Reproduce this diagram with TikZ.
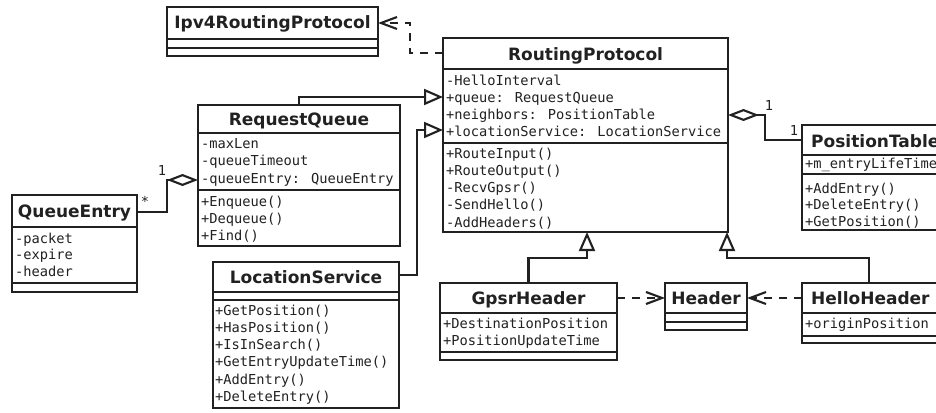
\documentclass[tikz,border=0pt]{standalone}
\usepackage{fontspec}
\usetikzlibrary{arrows.meta}
\newfontfamily\tfont{DejaVu Sans}
\newfontfamily\mfont{DejaVu Sans Mono}
\definecolor{ink}{gray}{0.13}
\tikzset{
  clsbox/.style={draw=ink, line width=2.1pt, rectangle, inner sep=0pt, outer sep=0pt, fill=white},
  sepline/.style={draw=ink, line width=2.1pt},
  titlest/.style={anchor=base, inner sep=0pt, text=ink, font=\tfont\bfseries\fontsize{17}{20}\selectfont},
  memb/.style={anchor=base west, inner sep=0pt, text=ink, font=\mfont\fontsize{13.7}{16}\selectfont},
  lbl/.style={inner sep=0pt, text=ink, font=\mfont\fontsize{13.7}{16}\selectfont},
  conn/.style={draw=ink, line width=2.1pt},
  gen/.style={conn, -{Triangle[open, fill=white, length=19pt, width=16pt]}},
  agg/.style={conn, -{Diamond[open, fill=white, length=31pt, width=12pt]}},
  dep/.style={conn, dash pattern=on 8pt off 7pt, -{Straight Barb[length=16pt, width=12pt]}}
}
\newcommand\umlbox[7]{%
  \node[clsbox, minimum width={#4-#2}, minimum height={#5-#3}] (#1) at ({(#2+#4)/2},{(#3+#5)/2}) {};
  \draw[sepline] (#2,#6) -- (#4,#6);
  \draw[sepline] (#2,#7) -- (#4,#7);}
\newcommand\umlmembers[5]{%
  \foreach \s [count=\i] in {#5} {\node[memb] (#1\i) at (#2,{#3+#4*(\i-1)}) {\s};}}
\begin{document}
\begin{tikzpicture}[x=1pt, y=-1pt]
\useasboundingbox (0,0) rectangle (936,412);
\clip (0,0) rectangle (936,412);
\fill[white] (0,0) rectangle (936,412);

% classes
\umlbox{ipv4}{167}{7}{378}{56}{39}{48}
\node[titlest] (ipv4-t) at (272.5,29) {Ipv4RoutingProtocol};

\umlbox{rp}{443}{38}{728}{232}{69}{143}
\node[titlest] (rp-t) at (585.5,60) {RoutingProtocol};
\umlmembers{rpa}{446}{85}{17.2}{-HelloInterval, +queue: RequestQueue, +neighbors: PositionTable, +locationService: LocationService}
\umlmembers{rpm}{446}{158}{17.3}{+RouteInput(), +RouteOutput(), -RecvGpsr(), -SendHello(), -AddHeaders()}

\umlbox{pt}{802}{125}{950}{230}{155}{174}
\node[titlest, anchor=base west] (pt-t) at (811,147) {PositionTable};
\umlmembers{pta}{805}{168.5}{16.5}{+m\_entryLifeTime}
\umlmembers{ptm}{805}{193}{16.5}{+AddEntry(), +DeleteEntry(), +GetPosition()}

\umlbox{rq}{198}{105}{400}{246}{133}{190}
\node[titlest] (rq-t) at (299,125) {RequestQueue};
\umlmembers{rqa}{201}{148}{17.5}{-maxLen, -queueTimeout, -queueEntry: QueueEntry}
\umlmembers{rqm}{201}{206}{17.3}{+Enqueue(), +Dequeue(), +Find()}

\umlbox{qe}{12}{195}{137}{292}{227}{283}
\node[titlest] (qe-t) at (74.5,217) {QueueEntry};
\umlmembers{qea}{15}{243}{16.5}{-packet, -expire, -header}

\umlbox{ls}{213}{262}{399}{408}{292}{300}
\node[titlest] (ls-t) at (306,283) {LocationService};
\umlmembers{lsm}{215}{315}{17.3}{+GetPosition(), +HasPosition(), +IsInSearch(), +GetEntryUpdateTime(), +AddEntry(), +DeleteEntry()}

\umlbox{gh}{440}{283}{617}{360}{313}{352}
\node[titlest] (gh-t) at (528.5,304) {GpsrHeader};
\umlmembers{gha}{443}{328}{17}{+DestinationPosition, +PositionUpdateTime}

\umlbox{hd}{665}{283}{747}{330}{313}{322}
\node[titlest] (hd-t) at (706,304) {Header};

\umlbox{hh}{802}{283}{950}{343}{313}{336}
\node[titlest, anchor=base west] (hh-t) at (811,304) {HelloHeader};
\umlmembers{hha}{805}{328}{17}{+originPosition}

% connectors
\draw[dep] (rp.west |- 0,53) -| (410,23) -- (ipv4.east |- 0,23);
\draw[gen] (rq.north) |- (rp.west |- 0,97);
\draw[gen] (ls.east |- 0,275) -| (417,130) -- (rp.west |- 0,130);
\draw[gen] (gh.north) |- (587,258) -- (rp.south -| 587,0);
\draw[gen] (hh.north -| 869,0) |- (727,258) -- (rp.south -| 727,0);
\draw[agg] (pt.west |- 0,140) -| (765,115) -- (rp.east |- 0,115);
\draw[agg] (qe.east |- 0,212) -| (167,180) -- (rq.west |- 0,180);
\draw[dep] (gh.east |- 0,298) -- (hd.west |- 0,298);
\draw[dep] (hh.west |- 0,298) -- (hd.east |- 0,298);

% multiplicities
\node[lbl] (m1) at (769,106) {1};
\node[lbl] (m2) at (794,131) {1};
\node[lbl] (m3) at (162,171) {1};
\node[lbl] (m4) at (145,201) {*};
\end{tikzpicture}
\end{document}
